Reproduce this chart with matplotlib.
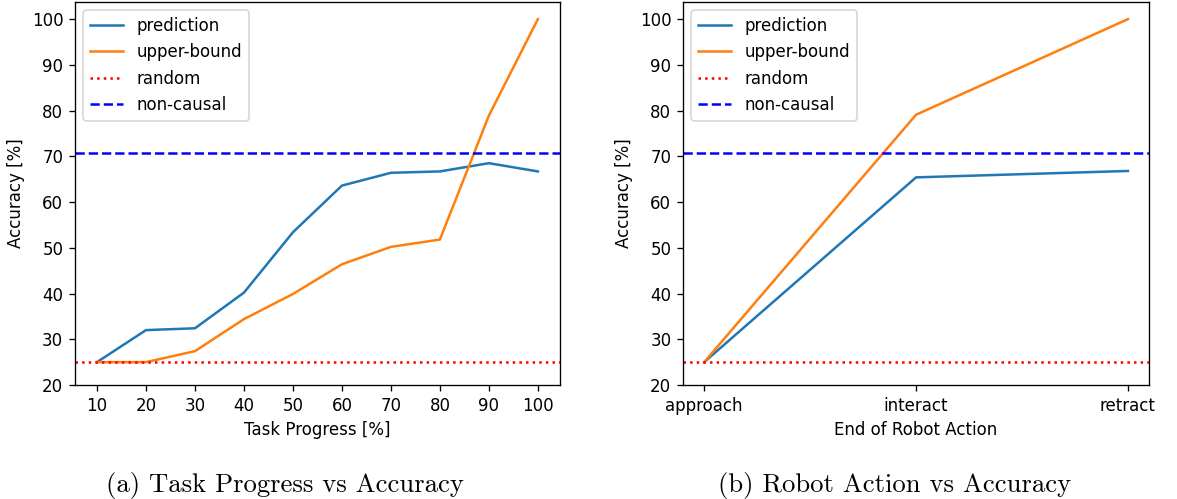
import matplotlib
matplotlib.use("Agg")
import matplotlib.pyplot as plt

# --- data ---
progress = [10, 20, 30, 40, 50, 60, 70, 80, 90, 100]
pred_progress = [25.0, 32.0, 32.4, 40.2, 53.4, 63.6, 66.4, 66.7, 68.5, 66.7]
upper_progress = [25.0, 25.0, 27.4, 34.4, 39.9, 46.4, 50.2, 51.8, 78.9, 100.0]

actions = ["approach", "interact", "retract"]
pred_action = [25.0, 65.4, 66.8]
upper_action = [25.0, 79.1, 100.0]

random_acc = 25.0
noncausal_acc = 70.7

# rendered at 120 dpi so fonts/lines come out ~1.2x bigger, like the reference
dpi = 120
fig = plt.figure(figsize=(1177 / dpi, 499 / dpi), dpi=dpi)
ax1 = fig.add_axes([0.0637, 0.2285, 0.412, 0.7675])
ax2 = fig.add_axes([0.5803, 0.2285, 0.396, 0.7675])


def draw(ax, x, pred, upper):
    ax.plot(x, pred, color="tab:blue", label="prediction")
    ax.plot(x, upper, color="tab:orange", label="upper-bound")
    ax.axhline(random_acc, color="red", linestyle=":", label="random")
    ax.axhline(noncausal_acc, color="blue", linestyle="--", label="non-causal")
    ax.set_ylim(bottom=20)
    ax.set_ylabel("Accuracy [%]")
    ax.legend(loc="upper left")


draw(ax1, progress, pred_progress, upper_progress)
ax1.set_xticks(progress)
ax1.set_xlabel("Task Progress [%]")

draw(ax2, actions, pred_action, upper_action)
ax2.set_xlabel("End of Robot Action")

# subfigure captions
fig.text(0.242, 0.028, "(a) Task Progress vs Accuracy", ha="center", va="center",
         fontsize=16, family="cmr10")
fig.text(0.760, 0.028, "(b) Robot Action vs Accuracy", ha="center", va="center",
         fontsize=16, family="cmr10")

fig.savefig("out.png", dpi=dpi)
